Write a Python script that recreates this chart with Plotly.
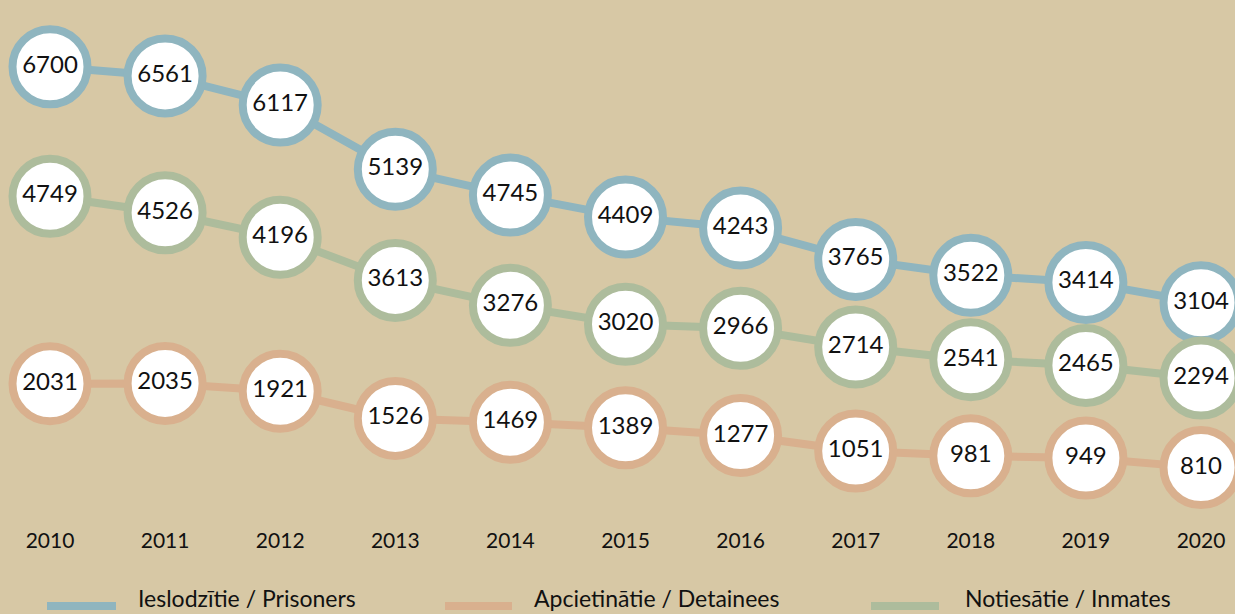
import plotly.graph_objects as go

# ---- data ----
years = [2010, 2011, 2012, 2013, 2014, 2015, 2016, 2017, 2018, 2019, 2020]
year_labels = ["2010", "2011", "2012", "2013", "2014", "2015", "2016", "2017", "2018", "2019", "2020"]
prisoners = [6700, 6561, 6117, 5139, 4745, 4409, 4243, 3765, 3522, 3414, 3104]
detainees = [2031, 2035, 1921, 1526, 1469, 1389, 1277, 1051, 981, 949, 810]
inmates = [4749, 4526, 4196, 3613, 3276, 3020, 2966, 2714, 2541, 2465, 2294]
series_names = ["Ieslodzītie / Prisoners", "Apcietinātie / Detainees", "Notiesātie / Inmates"]

# ---- style ----
W, H = 1235, 614
PLOT_BOTTOM = 520
BG = "#d7c8a5"
colors = {"p": "#8fb5bf", "d": "#d9b08e", "i": "#adbc9c"}
NUM_FONT = dict(family="Lato", size=24, color="#111111")

fig = go.Figure()


def add_series(vals, color, yaxis):
    fig.add_trace(go.Scatter(
        x=years, y=vals, yaxis=yaxis,
        mode="lines+markers+text",
        text=[str(v) for v in vals],
        textposition="middle center",
        textfont=NUM_FONT,
        line=dict(color=color, width=8),
        marker=dict(size=75, color="white", line=dict(color=color, width=8)),
        cliponaxis=False, showlegend=False, hoverinfo="skip",
    ))


add_series(detainees, colors["d"], "y3")
add_series(inmates, colors["i"], "y2")
add_series(prisoners, colors["p"], "y")

x0 = 2010 - 50 / 115.1
x1 = 2010 + (W - 50) / 115.1

fig.update_layout(
    width=W, height=H,
    margin=dict(l=0, r=0, t=0, b=H - PLOT_BOTTOM, pad=0),
    paper_bgcolor=BG, plot_bgcolor=BG,
    xaxis=dict(range=[x0, x1], tickmode="array", tickvals=years, ticktext=year_labels,
               showgrid=False, zeroline=False, showline=False, ticks="",
               ticklabelstandoff=6,
               tickfont=dict(family="Lato", size=21, color="#111111"),
               fixedrange=True),
    yaxis=dict(range=[-207, 7718], visible=False, fixedrange=True),
    yaxis2=dict(range=[377, 7400], visible=False, overlaying="y", fixedrange=True),
    yaxis3=dict(range=[48, 7613], visible=False, overlaying="y", fixedrange=True),
    showlegend=False,
)

# ---- manual legend ----
legend_items = [
    (series_names[0], colors["p"], 47, 116, 136),
    (series_names[1], colors["d"], 445, 512, 532),
    (series_names[2], colors["i"], 871, 939, 963),
]
sw_y = 1 - 606 / PLOT_BOTTOM
tx_y = 1 - 598 / PLOT_BOTTOM
for name, col, sx0, sx1, tx in legend_items:
    fig.add_shape(type="line", xref="paper", yref="paper",
                  x0=sx0 / W, x1=sx1 / W, y0=sw_y, y1=sw_y,
                  line=dict(color=col, width=8))
    fig.add_annotation(xref="paper", yref="paper", x=tx / W, y=tx_y,
                       text=name, showarrow=False, xanchor="left", yanchor="middle",
                       font=dict(family="Lato", size=23, color="#111111"))

fig.write_html("out.html", config={"displayModeBar": False},
               post_script="document.body.style.margin='0';document.body.style.overflow='hidden';")
